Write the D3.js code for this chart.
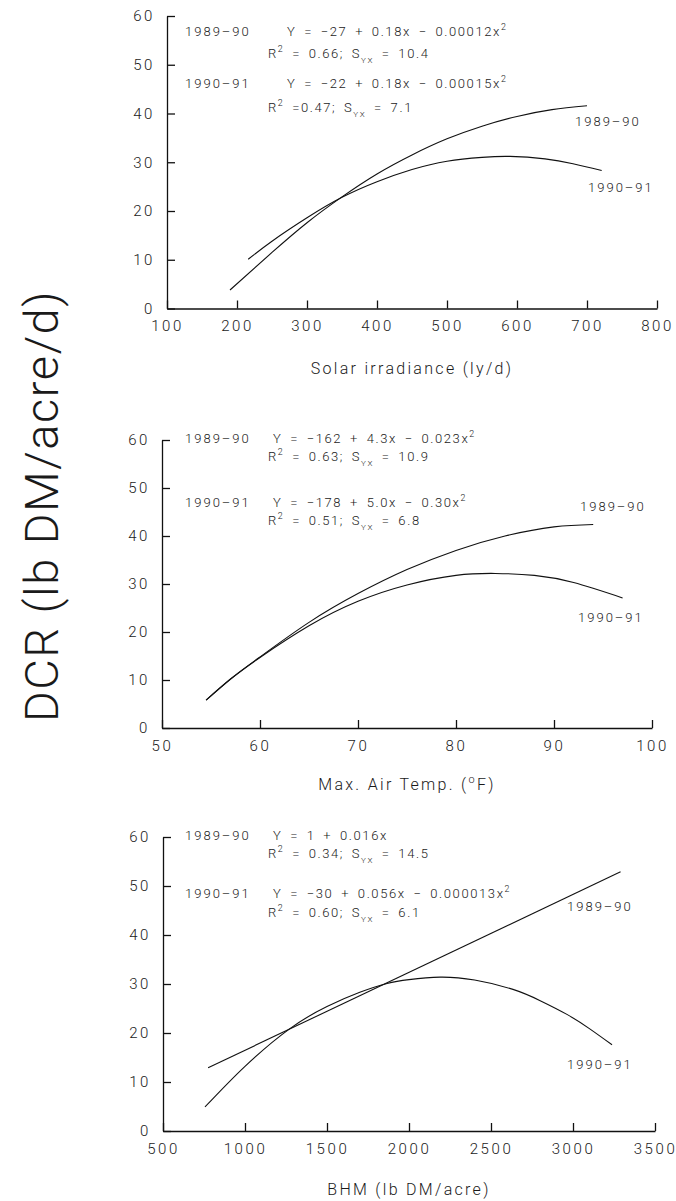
<!DOCTYPE html>
<html><head><meta charset="utf-8">
<script src="https://cdn.jsdelivr.net/npm/d3@7"></script>
<style>
html,body{margin:0;padding:0;background:#fff;}
svg{display:block;}
text{font-family:Roboto,"Liberation Sans",Arial,sans-serif;font-weight:300;fill:#1a1a1a;}
</style></head><body>
<svg id="c" width="676" height="1201"></svg>
<script>
// ---------- data ----------
const dcrTicks = [0, 10, 20, 30, 40, 50, 60];
const solarTicks = [100, 200, 300, 400, 500, 600, 700, 800];
const tempTicks = [50, 60, 70, 80, 90, 100];
const bhmTicks = [500, 1000, 1500, 2000, 2500, 3000, 3500];
const seasons = ["1989–90", "1990–91"];

// Solar irradiance panel
const solarX8990 = [190, 250, 300, 350, 400, 450, 500, 550, 600, 650, 700];
const solarY8990 = [3.8, 11.5, 17.6, 22.9, 27.6, 31.5, 34.8, 37.4, 39.4, 40.8, 41.6];
const solarX9091 = [216, 250, 300, 350, 400, 450, 500, 550, 590, 640, 680, 721];
const solarY9091 = [10.1, 13.8, 18.6, 22.8, 26.0, 28.5, 30.2, 31.0, 31.2, 30.7, 29.7, 28.3];
const solarEq = ["Y = −27 + 0.18x − 0.00012x^2", "R^2 = 0.66; S_YX = 10.4",
                 "Y = −22 + 0.18x − 0.00015x^2", "R^2 =0.47; S_YX = 7.1"];

// Max air temperature panel
const tempX8990 = [54.5, 57, 60, 65, 70, 75, 80, 85, 90, 94];
const tempY8990 = [5.8, 10.2, 14.8, 22.0, 28.0, 33.0, 37.0, 40.0, 41.9, 42.4];
const tempX9091 = [54.5, 57, 60, 65, 70, 75, 80, 84, 88, 92, 97];
const tempY9091 = [5.8, 10.2, 14.7, 21.3, 26.4, 29.8, 31.8, 32.2, 31.8, 30.3, 27.1];
const tempEq = ["Y = −162 + 4.3x − 0.023x^2", "R^2 = 0.63; S_YX = 10.9",
                "Y = −178 + 5.0x − 0.30x^2", "R^2 = 0.51; S_YX = 6.8"];

// BHM panel
const bhmX8990 = [775, 3290];
const bhmY8990 = [12.9, 52.9];
const bhmX9091 = [756, 1000, 1274, 1500, 1700, 1866, 2000, 2190, 2400, 2634, 2800, 2963, 3100, 3238];
const bhmY9091 = [4.9, 13.2, 20.9, 25.4, 28.3, 30.1, 30.9, 31.4, 30.8, 28.9, 26.6, 23.8, 20.9, 17.6];
const bhmEq = ["Y = 1 + 0.016x", "R^2 = 0.34; S_YX = 14.5",
               "Y = −30 + 0.056x − 0.000013x^2", "R^2 = 0.60; S_YX = 6.1"];

const yTitle = "DCR (lb DM/acre/d)";
const xTitles = ["Solar irradiance (ly/d)", "Max. Air Temp. (^oF)", "BHM (lb DM/acre)"];

// ---------- layout ----------
const svg = d3.select("#c");
const panels = [
  {xTicks: solarTicks, left: 167, right: 657, top: 16, bottom: 308.5,
   s1: [solarX8990, solarY8990], s2: [solarX9091, solarY9091], eq: solarEq, title: xTitles[0],
   eqY: [36, 58, 88, 112], eqX: 287, lab1: [575, 126], lab2: [588, 192], titleY: 374},
  {xTicks: tempTicks, left: 162, right: 652, top: 440, bottom: 728,
   s1: [tempX8990, tempY8990], s2: [tempX9091, tempY9091], eq: tempEq, title: xTitles[1],
   eqY: [443, 461, 507, 525], eqX: 273, lab1: [580, 511], lab2: [578, 622], titleY: 790},
  {xTicks: bhmTicks, left: 163, right: 655, top: 837, bottom: 1131,
   s1: [bhmX8990, bhmY8990], s2: [bhmX9091, bhmY9091], eq: bhmEq, title: xTitles[2],
   eqY: [840, 858, 898, 917], eqX: 273, lab1: [567, 911], lab2: [567, 1069], titleY: 1195}
];

function richText(sel, str, size) {
  const parts = str.split(/(\^.|_YX)/).filter(s => s.length);
  let shift = 0;
  parts.forEach(s => {
    const t = sel.append("tspan");
    if (s[0] === "^") {
      t.text(s.slice(1)).attr("font-size", size * 0.68).attr("dy", -size * 0.45 - shift);
      shift = -size * 0.45;
    } else if (s[0] === "_") {
      t.text(s.slice(1)).attr("font-size", size * 0.62).attr("dy", size * 0.35 - shift);
      shift = size * 0.35;
    } else {
      t.text(s);
      if (shift !== 0) { t.attr("dy", -shift); shift = 0; }
    }
  });
}

panels.forEach(p => {
  const x = d3.scaleLinear().domain(d3.extent(p.xTicks)).range([p.left, p.right]);
  const y = d3.scaleLinear().domain([0, 60]).range([p.bottom, p.top]);
  const g = svg.append("g");

  const xa = g.append("g").attr("transform", `translate(0,${p.bottom})`)
    .call(d3.axisBottom(x).tickValues(p.xTicks).tickSizeInner(-8).tickSizeOuter(0)
      .tickPadding(12).tickFormat(d3.format("d")));
  const ya = g.append("g").attr("transform", `translate(${p.left},0)`)
    .call(d3.axisLeft(y).tickValues(dcrTicks).tickSizeInner(-8).tickSizeOuter(0)
      .tickPadding(12).tickFormat(d3.format("d")));
  [xa, ya].forEach(a => {
    a.attr("font-size", null).attr("font-family", null);
    a.selectAll("path, line").attr("stroke", "#111").attr("stroke-width", 1.3);
    a.selectAll("text").attr("font-size", 15).attr("letter-spacing", 2.6).attr("fill", "#222");
  });

  const line = d3.line().x(d => x(d[0])).y(d => y(d[1])).curve(d3.curveNatural);
  [p.s1, p.s2].forEach(s => {
    const pts = d3.zip(s[0], s[1]);
    g.append("path").attr("d", line(pts)).attr("fill", "none")
      .attr("stroke", "#111").attr("stroke-width", 1.1);
  });

  // equations
  p.eq.forEach((e, i) => {
    const isR = i % 2 === 1;
    if (!isR) {
      g.append("text").attr("x", 185).attr("y", p.eqY[i]).attr("font-size", 13)
        .attr("letter-spacing", 2).text(seasons[i / 2]);
    }
    const t = g.append("text").attr("x", isR ? 268 : p.eqX).attr("y", p.eqY[i])
      .attr("font-size", 13).attr("letter-spacing", 1.6).attr("word-spacing", 3)
      .attr("xml:space", "preserve");
    richText(t, e, 13);
  });

  g.append("text").attr("x", p.lab1[0]).attr("y", p.lab1[1]).attr("font-size", 13)
    .attr("letter-spacing", 2).text(seasons[0]);
  g.append("text").attr("x", p.lab2[0]).attr("y", p.lab2[1]).attr("font-size", 13)
    .attr("letter-spacing", 2).text(seasons[1]);

  const tt = g.append("text").attr("x", (p.left + p.right) / 2).attr("y", p.titleY)
    .attr("text-anchor", "middle").attr("font-size", 16).attr("letter-spacing", 2.3);
  richText(tt, p.title, 16);
});

svg.append("text").attr("transform", "translate(58,506) rotate(-90)")
  .attr("text-anchor", "middle").attr("font-size", 47).attr("font-weight", 100)
  .attr("letter-spacing", 1.5).attr("fill", "#222").text(yTitle);
</script>
</body></html>
